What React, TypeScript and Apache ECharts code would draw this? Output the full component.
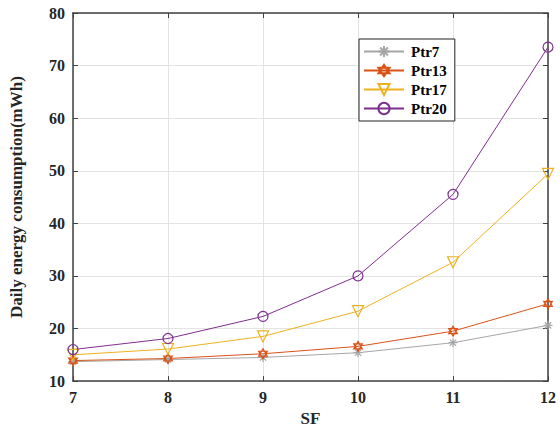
import React, { useEffect, useRef } from "react";
import * as echarts from "echarts";

const sf = [7, 8, 9, 10, 11, 12];
const ptr7 = [13.7, 14.1, 14.5, 15.4, 17.3, 20.6];
const ptr13 = [13.9, 14.3, 15.2, 16.6, 19.5, 24.7];
const ptr17 = [15.0, 16.1, 18.5, 23.3, 32.6, 49.4];
const ptr20 = [16.0, 18.1, 22.3, 30.0, 45.5, 73.5];
const names = ["Ptr7", "Ptr13", "Ptr17", "Ptr20"];

const FONT = "Liberation Serif";
const AX = "#404040";

const asterisk =
  "path://M0,-1 L0,1 M-1,0 L1,0 M-0.7,-0.7 L0.7,0.7 M-0.7,0.7 L0.7,-0.7";
const hexagram =
  "path://M0,-1 L0.866,0.5 L-0.866,0.5 Z M0,1 L0.866,-0.5 L-0.866,-0.5 Z";

export default function App() {
  const ref = useRef<HTMLDivElement>(null);
  useEffect(() => {
    const chart = echarts.init(ref.current!, null, { renderer: "svg" });
    const mk = (
      name: string,
      data: number[],
      color: string,
      symbol: string,
      size: number,
      rotate = 0
    ) => ({
      name,
      type: "line",
      data: sf.map((x, i) => [x, data[i]]),
      symbol,
      symbolSize: size,
      symbolRotate: rotate,
      symbolKeepAspect: true,
      showSymbol: true,
      lineStyle: { color, width: 1 },
      itemStyle: { color: "transparent", borderColor: color, borderWidth: 1.2 },
      emphasis: { disabled: true },
    });
    chart.setOption({
      animation: false,
      backgroundColor: "#fff",
      grid: { left: 73, right: 12, top: 13, bottom: 43 },
      legend: {
        orient: "vertical",
        left: 359,
        top: 39,
        width: 100,
        padding: [5, 8, 5, 4],
        itemGap: 4,
        itemWidth: 40,
        itemHeight: 14,
        borderColor: "#222",
        borderWidth: 1,
        backgroundColor: "#fff",
        data: names,
        textStyle: {
          fontFamily: FONT,
          fontWeight: "bold",
          fontSize: 15,
          color: "#000",
          padding: [0, 0, 0, 2],
        },
      },
      xAxis: [
        {
          type: "value",
          min: 7,
          max: 12,
          interval: 1,
          name: "SF",
          nameLocation: "middle",
          nameGap: 24,
          nameTextStyle: {
            fontFamily: FONT,
            fontWeight: "bold",
            fontSize: 17,
            color: "#262626",
          },
          axisLine: { show: true, lineStyle: { color: AX, width: 1.5 } },
          axisTick: { show: true, inside: true, length: 5, lineStyle: { color: AX } },
          axisLabel: {
            fontFamily: FONT,
            fontWeight: "bold",
            fontSize: 16,
            color: "#262626",
            margin: 8,
          },
          splitLine: { show: true, lineStyle: { color: "#e3e3e3", width: 1 } },
        },
        {
          type: "value",
          position: "top",
          min: 7,
          max: 12,
          interval: 1,
          axisLine: { show: true, lineStyle: { color: AX, width: 1.5 } },
          axisTick: { show: true, inside: true, length: 5, lineStyle: { color: AX } },
          axisLabel: { show: false },
          splitLine: { show: false },
        },
      ],
      yAxis: [
        {
          type: "value",
          min: 10,
          max: 80,
          interval: 10,
          name: "Daily energy consumption(mWh)",
          nameLocation: "middle",
          nameGap: 48,
          nameTextStyle: {
            fontFamily: FONT,
            fontWeight: "bold",
            fontSize: 17,
            color: "#262626",
          },
          axisLine: { show: true, lineStyle: { color: AX, width: 1.5 } },
          axisTick: { show: true, inside: true, length: 5, lineStyle: { color: AX } },
          axisLabel: {
            fontFamily: FONT,
            fontWeight: "bold",
            fontSize: 16,
            color: "#262626",
            margin: 8,
          },
          splitLine: { show: true, lineStyle: { color: "#e3e3e3", width: 1 } },
        },
        {
          type: "value",
          position: "right",
          min: 10,
          max: 80,
          interval: 10,
          axisLine: { show: true, lineStyle: { color: AX, width: 1.5 } },
          axisTick: { show: true, inside: true, length: 5, lineStyle: { color: AX } },
          axisLabel: { show: false },
          splitLine: { show: false },
        },
      ],
      series: [
        mk("Ptr7", ptr7, "#a6a6a6", asterisk, 9),
        mk("Ptr13", ptr13, "#D95319", hexagram, 10),
        mk("Ptr17", ptr17, "#EDB120", "triangle", 11, 180),
        mk("Ptr20", ptr20, "#7E2F8E", "circle", 10),
      ],
    });
    return () => chart.dispose();
  }, []);
  return (
    <div
      ref={ref}
      style={{ position: "absolute", left: 0, top: 0, width: 560, height: 432 }}
    />
  );
}
